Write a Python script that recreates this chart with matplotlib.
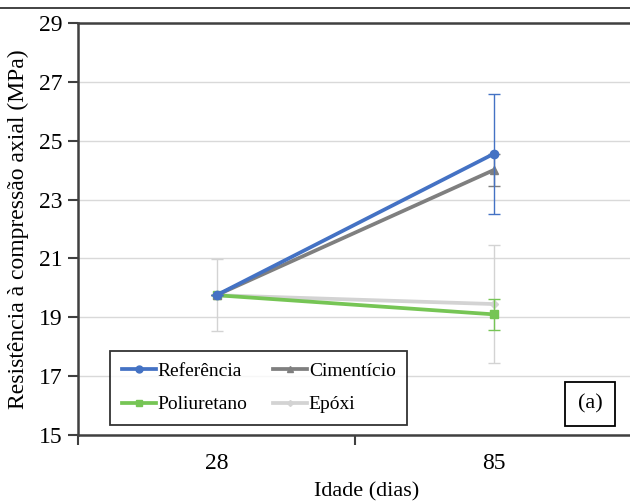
import matplotlib
matplotlib.use("Agg")
import matplotlib.pyplot as plt
from matplotlib.lines import Line2D

plt.rcParams['font.family'] = ['Liberation Serif', 'DejaVu Serif']

# data
idades = ['28', '85']
series = ['Referência', 'Cimentício', 'Poliuretano', 'Epóxi']
referencia = [19.75, 24.55]
referencia_err = [0.0, 2.05]
cimenticio = [19.75, 24.0]
cimenticio_err = [0.0, 0.55]
poliuretano = [19.75, 19.1]
poliuretano_err = [0.0, 0.52]
epoxi = [19.75, 19.45]
epoxi_err = [1.23, 2.0]

cores = ['#4472C4', '#7F7F7F', '#76C555', '#D3D3D3']
marcadores = ['o', '^', 's', 'D']
tamanhos = [6, 6, 6, 4]

fig = plt.figure(figsize=(6.3, 5.04), dpi=100)
ax = fig.add_axes([78/630, 1 - 435/504, 554/630, (435 - 23)/504])

x = [1, 2]
# draw light ones first so the darker lines sit on top
ordem = [3, 2, 1, 0]
valores = [referencia, cimenticio, poliuretano, epoxi]
erros = [referencia_err, cimenticio_err, poliuretano_err, epoxi_err]
handles = {}
for i in ordem:
    ax.errorbar(x, valores[i], yerr=erros[i], color=cores[i], lw=2.7,
                marker=marcadores[i], ms=tamanhos[i],
                elinewidth=1.0, capsize=4, capthick=1.0,
                zorder=3 + (3 - i))
    handles[series[i]] = Line2D([], [], color=cores[i], lw=2.7,
                                marker=marcadores[i], ms=tamanhos[i] - 1)

ax.set_xlim(0.5, 2.5)
ax.set_ylim(15, 29)
ax.set_yticks(range(15, 30, 2))
ax.yaxis.grid(True, color='#D9D9D9', lw=1.0)
ax.set_axisbelow(True)

ax.set_xticks(x)
ax.set_xticklabels(idades)
ax.set_xticks([0.5, 1.5, 2.5], minor=True)
ax.tick_params(axis='x', which='major', length=0, pad=13, labelsize=17)
ax.tick_params(axis='x', which='minor', length=7, width=1.5, color='#404040')
ax.tick_params(axis='y', length=7, width=1.5, color='#404040', labelsize=17, pad=4)

for s in ['left', 'bottom', 'top']:
    ax.spines[s].set_color('#404040')
    ax.spines[s].set_linewidth(1.8)
ax.spines['right'].set_visible(False)

leg_order = ['Referência', 'Poliuretano', 'Cimentício', 'Epóxi']
leg = ax.legend([handles[n] for n in leg_order], leg_order, ncol=2,
                loc='lower left', bbox_to_anchor=(32/554, 10/412),
                frameon=True, fancybox=False, edgecolor='black',
                fontsize=14, handlelength=1.75, handletextpad=0.1,
                columnspacing=1.3, borderpad=0.6, labelspacing=0.8,
                borderaxespad=0)
leg.get_frame().set_linewidth(1.3)

ax.text(590/630, 1 - 404/504, '(a)', transform=fig.transFigure, fontsize=16,
        ha='center', va='center',
        bbox=dict(boxstyle='square,pad=0.55', fc='white', ec='black', lw=1.3))

fig.text(18/630, 1 - 229/504, 'Resistência à compressão axial (MPa)',
         rotation=90, ha='center', va='center', fontsize=17)
fig.text(367/630, 1 - 492/504, 'Idade (dias)', ha='center', va='center',
         fontsize=16)

fig.add_artist(Line2D([0, 1], [1 - 8/504, 1 - 8/504], color='#222222', lw=1.2,
                      transform=fig.transFigure))

fig.savefig('out.png', dpi=100)
